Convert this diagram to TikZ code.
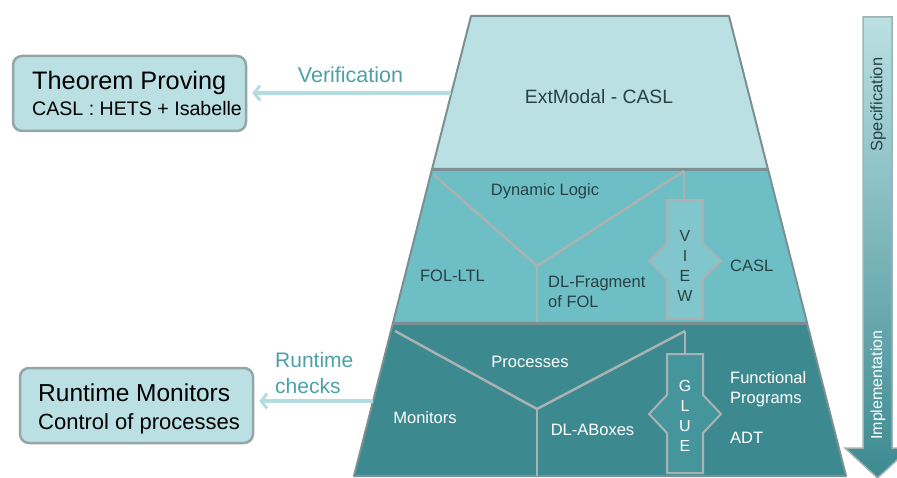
\documentclass[tikz,border=0pt]{standalone}
\usepackage{fontspec}
\setmainfont{Liberation Sans}
\usetikzlibrary{arrows.meta}

\definecolor{lightteal}{RGB}{186,224,227}
\definecolor{midteal}{RGB}{110,190,197}
\definecolor{darkteal}{RGB}{60,138,144}
\definecolor{edgegray}{RGB}{122,144,146}
\definecolor{splitgray}{RGB}{170,178,178}
\definecolor{inktext}{RGB}{40,66,68}
\definecolor{labelteal}{RGB}{76,160,167}
\definecolor{flowteal}{RGB}{178,220,224}
\definecolor{viewfill}{RGB}{128,198,204}
\definecolor{gluefill}{RGB}{68,150,156}

\newcommand{\fs}[1]{\fontsize{#1}{20}\selectfont}

\begin{document}
\begin{tikzpicture}[x=1pt,y=-1pt,
  layer/.style={draw=edgegray,line width=2pt,line join=round},
  split/.style={draw=splitgray,line width=2.5pt},
  dblbox/.style={draw=splitgray,line width=2pt,line join=miter},
  sidebox/.style={draw=edgegray!80,line width=2.5pt,rounded corners=9pt,fill=lightteal,
    minimum width=233pt,minimum height=75pt,inner sep=0pt},
  flow/.style={draw=flowteal,line width=4pt,shorten >=5pt,
    -{Straight Barb[length=6pt,width=15pt,line width=3pt]}},
  txt/.style={inner sep=0pt,text=inktext,font=\fs{16.5}},
  wtxt/.style={txt,text=white},
  side/.style={inner sep=0pt,text=black,anchor=base west},
  lbl/.style={inner sep=0pt,text=labelteal,font=\fs{21.5}}
]
\useasboundingbox (0,0) rectangle (897,478);
\clip (0,0) rectangle (897,478);

% the three layers
\path[layer,fill=lightteal] (471,16) -- (729,16) -- (767.9,169) -- (432.1,169) -- cycle;
\path[layer,fill=midteal] (431.8,170) -- (768.2,170) -- (807.1,323) -- (392.9,323) -- cycle;
\path[layer,fill=darkteal] (392.7,324) -- (807.3,324) -- (846,476) -- (354,476) -- cycle;

% middle layer splits
\coordinate (midjoin) at (537,266);
\coordinate (midtop) at (684,171);
\draw[split] (434,175) -- (midjoin) -- (midtop);
\draw[split] (midjoin) -- (537,322);
\draw[split] (midtop) -- (684,201);
\path[dblbox,fill=viewfill] (667,200) -- (703,200) -- (703,243) -- (721,261) -- (703,279)
  -- (703,319) -- (667,319) -- (667,279) -- (649,261) -- (667,243) -- cycle;

% bottom layer splits
\coordinate (botjoin) at (537,409);
\coordinate (bottop) at (685,331);
\draw[split] (395,331) -- (botjoin) -- (bottop);
\draw[split] (botjoin) -- (537,476);
\draw[split] (bottop) -- (685,355);
\path[dblbox,fill=gluefill] (667,354) -- (703,354) -- (703,395) -- (721,414) -- (703,433)
  -- (703,473) -- (667,473) -- (667,433) -- (649,414) -- (667,395) -- cycle;

% layer texts
\node[txt,font=\fs{19.3},anchor=base] (extmodal) at (599,104) {ExtModal - CASL};
\node[txt,anchor=base] (dynlogic) at (545,196) {Dynamic Logic};
\node[txt,anchor=base] (folltl) at (452.5,282) {FOL-LTL};
\node[txt,anchor=north west,align=left] (dlfrag) at (548,276) {DL-Fragment\\of FOL};
\node[txt,anchor=base west] (casl) at (730,272) {CASL};
\node[txt,font=\fs{16},anchor=north,align=center] (view) at (685,230) {V\\I\\E\\W};

\node[wtxt,anchor=base] (processes) at (530,367) {Processes};
\node[wtxt,anchor=base] (monitors) at (425,423) {Monitors};
\node[wtxt,anchor=base] (dlaboxes) at (592.5,435) {DL-ABoxes};
\node[wtxt,anchor=north west,align=left] (funprog) at (730,371) {Functional\\Programs};
\node[wtxt,anchor=base west] (adt) at (730,443) {ADT};
\node[wtxt,font=\fs{16},anchor=north,align=center] (glue) at (685,380) {G\\L\\U\\E};

% direction arrow
\path[draw=edgegray!70,line width=1.5pt,top color=lightteal,bottom color=darkteal]
  (863,17) -- (892,17) -- (892,448) -- (910,448) -- (877.5,478) -- (845,448) -- (863,448) -- cycle;
\node[txt,font=\fs{16.5},rotate=90] (spec) at (878,104.5) {Specification};
\node[wtxt,font=\fs{16},rotate=90] (impl) at (878,385) {Implementation};

% side boxes
\node[sidebox] (thm) at (129.5,93.5) {};
\node[side,font=\fs{25.3}] (thmtitle) at (32,90) {Theorem Proving};
\node[side,font=\fs{19.6}] (thmtool) at (32,116) {CASL : HETS + Isabelle};

\node[sidebox] (rtm) at (136.5,405.5) {};
\node[side,font=\fs{24.5}] (rtmtitle) at (38,401) {Runtime Monitors};
\node[side,font=\fs{22}] (rtmtool) at (38,429) {Control of processes};

% verification and runtime checks
\coordinate (verfrom) at (451,93);
\draw[flow] (verfrom) -- (verfrom -| thm.east);
\node[lbl,anchor=base] (verlabel) at (350.5,83) {Verification};

\coordinate (rtfrom) at (373,401);
\draw[flow] (rtfrom) -- (rtfrom -| rtm.east);
\node[lbl,anchor=north west,align=left,font={\fontsize{21}{26}\selectfont}] (rtlabel) at (275,352) {Runtime\\checks};
\end{tikzpicture}
\end{document}
